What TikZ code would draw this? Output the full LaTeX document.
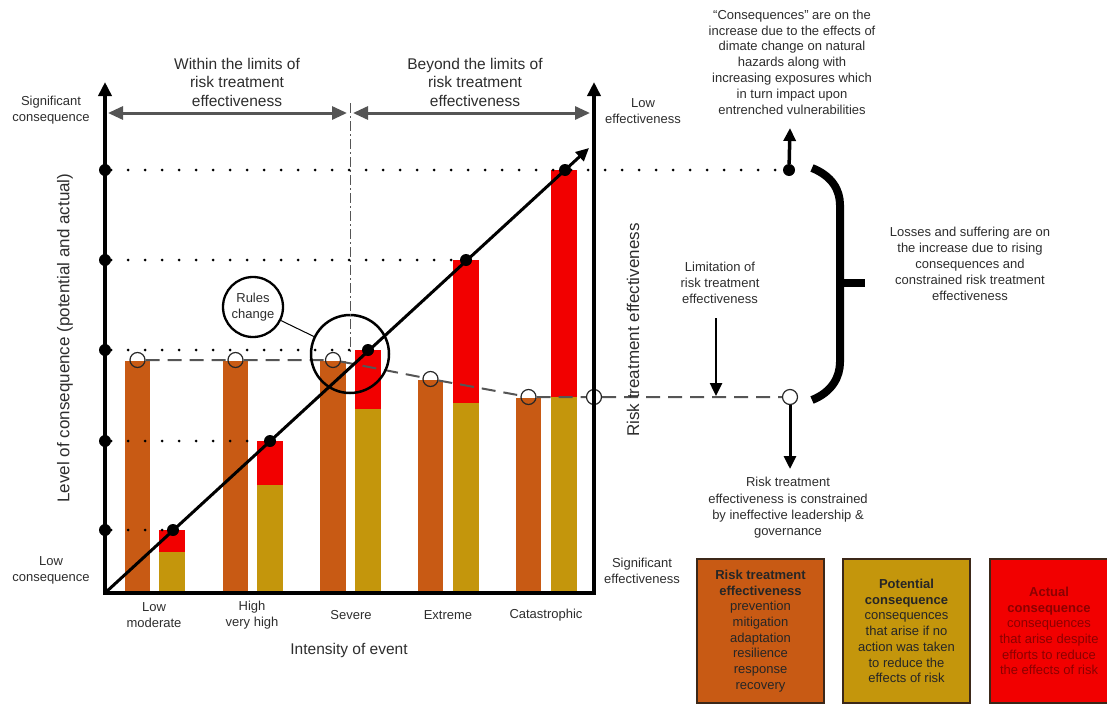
\documentclass[tikz,border=0pt]{standalone}
\usepackage{fontspec}
\setmainfont{Liberation Sans}
\usetikzlibrary{arrows.meta}
\definecolor{cbrown}{RGB}{200,90,20}
\definecolor{cgold}{RGB}{196,150,12}
\definecolor{cred}{RGB}{242,0,0}
\definecolor{ctext}{RGB}{45,45,45}
\definecolor{cgrey}{RGB}{85,85,85}
\definecolor{cdred}{RGB}{140,0,0}
\definecolor{cborder}{RGB}{60,40,25}
\begin{document}
\begin{tikzpicture}[x=1pt,y=-1pt,
  txt/.style={inner sep=0pt, align=center, text=ctext, font=\fontsize{13}{16}\selectfont},
  bigtxt/.style={inner sep=0pt, align=center, text=ctext, font=\fontsize{15.5}{18.5}\selectfont},
  axtitle/.style={inner sep=0pt, text=ctext, font=\fontsize{17}{20}\selectfont, rotate=90},
  axisline/.style={line width=3.5pt, black, {Triangle[length=14pt,width=13pt]}-{Triangle[length=14pt,width=13pt]}},
  blackdot/.style={circle, fill=black, inner sep=0pt, minimum size=12pt},
  hollow/.style={circle, draw=black!85, line width=1.2pt, inner sep=0pt, minimum size=15pt},
  dotline/.style={line width=3pt, black, dash pattern=on 0pt off 17pt, line cap=round},
  dashline/.style={line width=2pt, cgrey, dash pattern=on 14pt off 8pt},
  dashdotline/.style={line width=1pt, cgrey, dash pattern=on 10pt off 3pt on 2pt off 3pt},
  rangearrow/.style={line width=3pt, cgrey, {Triangle[length=15pt,width=13pt]}-{Triangle[length=15pt,width=13pt]}},
  arrowhead/.style={-{Triangle[length=13pt,width=12pt]}},
  legendbox/.style={draw=cborder, line width=1.5pt, inner sep=0pt, minimum height=144pt, align=center, text=black!85, font=\fontsize{13}{15.7}\selectfont}
]
\useasboundingbox (0,0) rectangle (1107,704);

% ---- bars ----
\fill[cbrown] (125,361) rectangle (150,593);
\fill[cbrown] (223,361) rectangle (248,593);
\fill[cbrown] (320,361) rectangle (346,593);
\fill[cbrown] (418,380) rectangle (443,593);
\fill[cbrown] (516,398) rectangle (541,593);
\fill[cgold] (159,552) rectangle (185,593);
\fill[cred]  (159,530) rectangle (185,552);
\fill[cgold] (257,485) rectangle (283,593);
\fill[cred]  (257,441) rectangle (283,485);
\fill[cgold] (355,409) rectangle (381,593);
\fill[cred]  (355,350) rectangle (381,409);
\fill[cgold] (453,403) rectangle (479,593);
\fill[cred]  (453,260) rectangle (479,403);
\fill[cgold] (551,397) rectangle (577,593);
\fill[cred]  (551,170) rectangle (577,397);

% ---- coordinates ----
\coordinate (origin) at (105,593);
\coordinate (ltop) at (105,82);
\coordinate (rbot) at (594,593);
\coordinate (rtop) at (594,82);
\coordinate (dtip) at (589,148);
\coordinate (ra1) at (108,113);
\coordinate (ra2) at (347,113);
\coordinate (rb1) at (353,113);
\coordinate (rb2) at (590,113);
\coordinate (vtop) at (350,103);
\coordinate (trtip) at (790,128);
\coordinate (limtop) at (716,318);
\coordinate (limtip) at (716,396);
\coordinate (contip) at (790,469);
\coordinate (br1) at (812,168);
\coordinate (br2) at (840,205);
\coordinate (br3) at (840,362);
\coordinate (br4) at (812,400);
\coordinate (brm) at (840,283);
\coordinate (brt) at (865,283);

% ---- hollow circles and dashed line ----
\node[hollow] (h1) at (137.5,360) {};
\node[hollow] (h2) at (235.5,360) {};
\node[hollow] (h3) at (333,360) {};
\node[hollow] (h4) at (430.5,379) {};
\node[hollow] (h5) at (528.5,397) {};
\node[hollow] (hr) at (594,397) {};
\node[hollow] (hx) at (790,397) {};
\draw[dashline] (h1) -- (h2) -- (h3) -- (h4) -- (h5) -- (hr) -- (hx);

% ---- rules change circles ----
\node[circle, draw, line width=2.5pt, minimum size=78pt, inner sep=0pt] (bigc) at (350,354) {};
\node[circle, draw, line width=2.3pt, minimum size=60pt, inner sep=0pt, txt] (rules) at (253,307) {Rules\\change};
\draw[line width=1pt] (rules) -- (bigc);
\draw[dashdotline] (vtop) -- (bigc.center);

% ---- range arrows ----
\draw[rangearrow] (ra1) -- (ra2);
\draw[rangearrow] (rb1) -- (rb2);

% ---- axes ----
\draw[axisline] (ltop) -- (origin) -- (rbot) -- (rtop);

% ---- dots ----
\node[blackdot] (l1) at (105,530) {};
\node[blackdot] (l2) at (105,441) {};
\node[blackdot] (l3) at (105,350) {};
\node[blackdot] (l4) at (105,260) {};
\node[blackdot] (l5) at (105,170) {};
\node[blackdot] (d1) at (173,530) {};
\node[blackdot] (d2) at (270,441) {};
\node[blackdot] (d3) at (368,350) {};
\node[blackdot] (d4) at (466,260) {};
\node[blackdot] (d5) at (565,170) {};
\node[blackdot] (tr) at (789,170) {};
\draw[dotline] (l1) -- (d1);
\draw[dotline] (l2) -- (d2);
\draw[dotline] (l3) -- (d3);
\draw[dotline] (l4) -- (d4);
\draw[dotline] (l5) -- (d5) -- (tr);

% ---- diagonal ----
\draw[line width=3pt, arrowhead] (origin) -- (dtip);

% ---- right side arrows and bracket ----
\draw[line width=3.5pt, arrowhead] (tr) -- (trtip);
\draw[line width=2.5pt, arrowhead] (limtop) -- (limtip);
\draw[line width=3pt, arrowhead] (hx) -- (contip);
\draw[line width=8pt] (br1) .. controls (832,176) and (840,190) .. (br2) -- (br3) .. controls (840,377) and (832,392) .. (br4);
\draw[line width=8pt] (brm) -- (brt);

% ---- texts ----
\node[bigtxt] (within) at (237,82) {Within the limits of\\risk treatment\\effectiveness};
\node[bigtxt] (beyond) at (475,82) {Beyond the limits of\\risk treatment\\effectiveness};
\node[txt] (sigcon) at (51,110) {Significant\\consequence};
\node[txt] (lowcon) at (51,570) {Low\\consequence};
\node[txt] (loweff) at (643,111.5) {Low\\effectiveness};
\node[txt] (sigeff) at (642,571) {Significant\\effectiveness};
\node[axtitle] (ytitle) at (65,338) {Level of consequence (potential and actual)};
\node[axtitle] (rtitle) at (633,330) {Risk treatment effectiveness};
\node[txt] (x1) at (154,615) {Low\\moderate};
\node[txt] (x2) at (252,615) {High\\very high};
\node[txt] (x3) at (351,615) {Severe};
\node[txt] (x4) at (448,615) {Extreme};
\node[txt] (x5) at (546,615) {Catastrophic};
\node[bigtxt] (xtitle) at (349,650) {Intensity of event};
\node[txt, font=\fontsize{13}{15.8}\selectfont] (consq) at (792,62) {“Consequences” are on the\\increase due to the effects of\\dimate change on natural\\hazards along with\\increasing exposures which\\in turn impact upon\\entrenched vulnerabilities};
\node[txt] (losses) at (970,264) {Losses and suffering are on\\the increase due to rising\\consequences and\\constrained risk treatment\\effectiveness};
\node[txt] (limit) at (720,283) {Limitation of\\risk treatment\\effectiveness};
\node[txt, font=\fontsize{13}{16.3}\selectfont] (constr) at (788,508) {Risk treatment\\effectiveness is constrained\\by ineffective leadership \&\\governance};

% ---- legend ----
\node[legendbox, fill=cbrown, minimum width=127pt] (lg1) at (760.5,631) {\textbf{Risk treatment}\\\textbf{effectiveness}\\prevention\\mitigation\\adaptation\\resilience\\response\\recovery};
\node[legendbox, fill=cgold, minimum width=127pt] (lg2) at (906.5,631) {\textbf{Potential}\\\textbf{consequence}\\consequences\\that arise if no\\action was taken\\to reduce the\\effects of risk};
\node[legendbox, fill=cred, minimum width=118pt, text=cdred] (lg3) at (1049,631) {\textbf{Actual}\\\textbf{consequence}\\consequences\\that arise despite\\efforts to reduce\\the effects of risk};
\end{tikzpicture}
\end{document}
